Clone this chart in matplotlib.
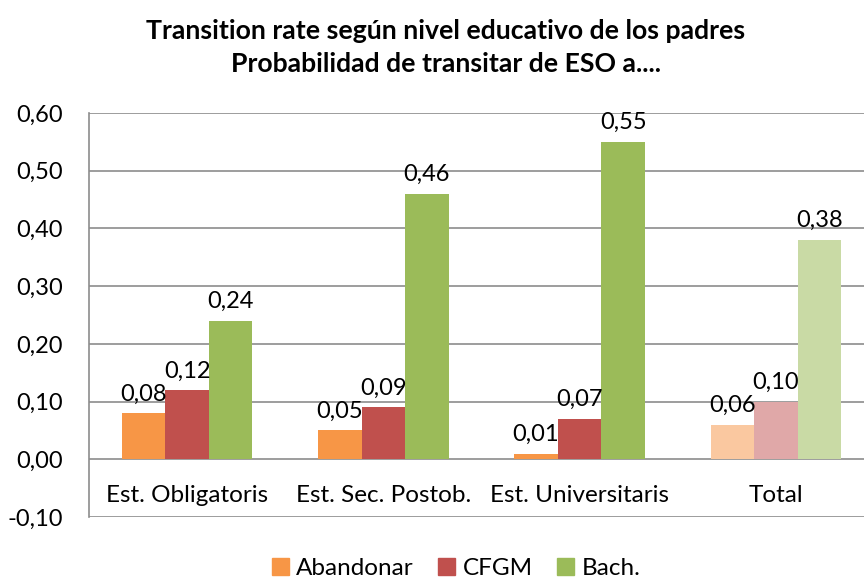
import matplotlib.pyplot as plt
import numpy as np

plt.rcParams['font.family'] = ['Lato', 'DejaVu Sans']

categories = ['Est. Obligatoris', 'Est. Sec. Postob.', 'Est. Universitaris', 'Total']
series = ['Abandonar', 'CFGM', 'Bach.']
abandonar = [0.08, 0.05, 0.01, 0.06]
cfgm = [0.12, 0.09, 0.07, 0.10]
bach = [0.24, 0.46, 0.55, 0.38]

colors = ['#F79646', '#C0504D', '#9BBB59']
light = ['#FAC8A0', '#E0A8A8', '#C9DAA5']

fig = plt.figure(figsize=(8.64, 5.81), dpi=100)
ax = fig.add_axes([89 / 864, 64 / 581, 785 / 864, 404 / 581])

x = np.arange(len(categories))
w = 0.222
for i, (name, vals) in enumerate(zip(series, [abandonar, cfgm, bach])):
    cols = [colors[i]] * (len(categories) - 1) + [light[i]]
    pos = x + (i - 1) * w
    ax.bar(pos, vals, width=w, color=cols, label=name, zorder=3)
    for px, v in zip(pos, vals):
        ax.text(px, v + 0.015, f'{v:.2f}'.replace('.', ','), ha='center', va='bottom',
                fontsize=17, zorder=4)

for xi, c in zip(x, categories):
    ax.text(xi, -0.062, c, ha='center', va='center', fontsize=17.5)

ax.set_xlim(-0.5, 3.5)
ax.set_ylim(-0.10, 0.60)
ticks = np.round(np.arange(-0.1, 0.61, 0.1), 2)
ax.set_yticks(ticks)
ax.set_yticklabels([f'{t:.2f}'.replace('.', ',') for t in ticks], fontsize=17)
ax.set_xticks([])
ax.tick_params(axis='y', length=0, pad=19)
ax.grid(axis='y', color='#8c8c8c', linewidth=1.2, zorder=0)
for s in ['top', 'right', 'bottom']:
    ax.spines[s].set_visible(False)
ax.spines['left'].set_color('#8c8c8c')
ax.spines['left'].set_linewidth(1.2)

fig.text(0.516, 0.947, 'Transition rate según nivel educativo de los padres',
         ha='center', va='center', fontsize=19.2, fontweight='bold')
fig.text(0.516, 0.89, 'Probabilidad de transitar de ESO a....',
         ha='center', va='center', fontsize=19.2, fontweight='bold')

handles = [plt.Rectangle((0, 0), 1, 1, color=c) for c in colors]
fig.legend(handles, series, loc='center', bbox_to_anchor=(0.528, 0.022), ncol=3,
           frameon=False, fontsize=17.5, handlelength=0.7, handleheight=0.7,
           handletextpad=0.3, columnspacing=1.0)

fig.savefig('out.png', dpi=100)
